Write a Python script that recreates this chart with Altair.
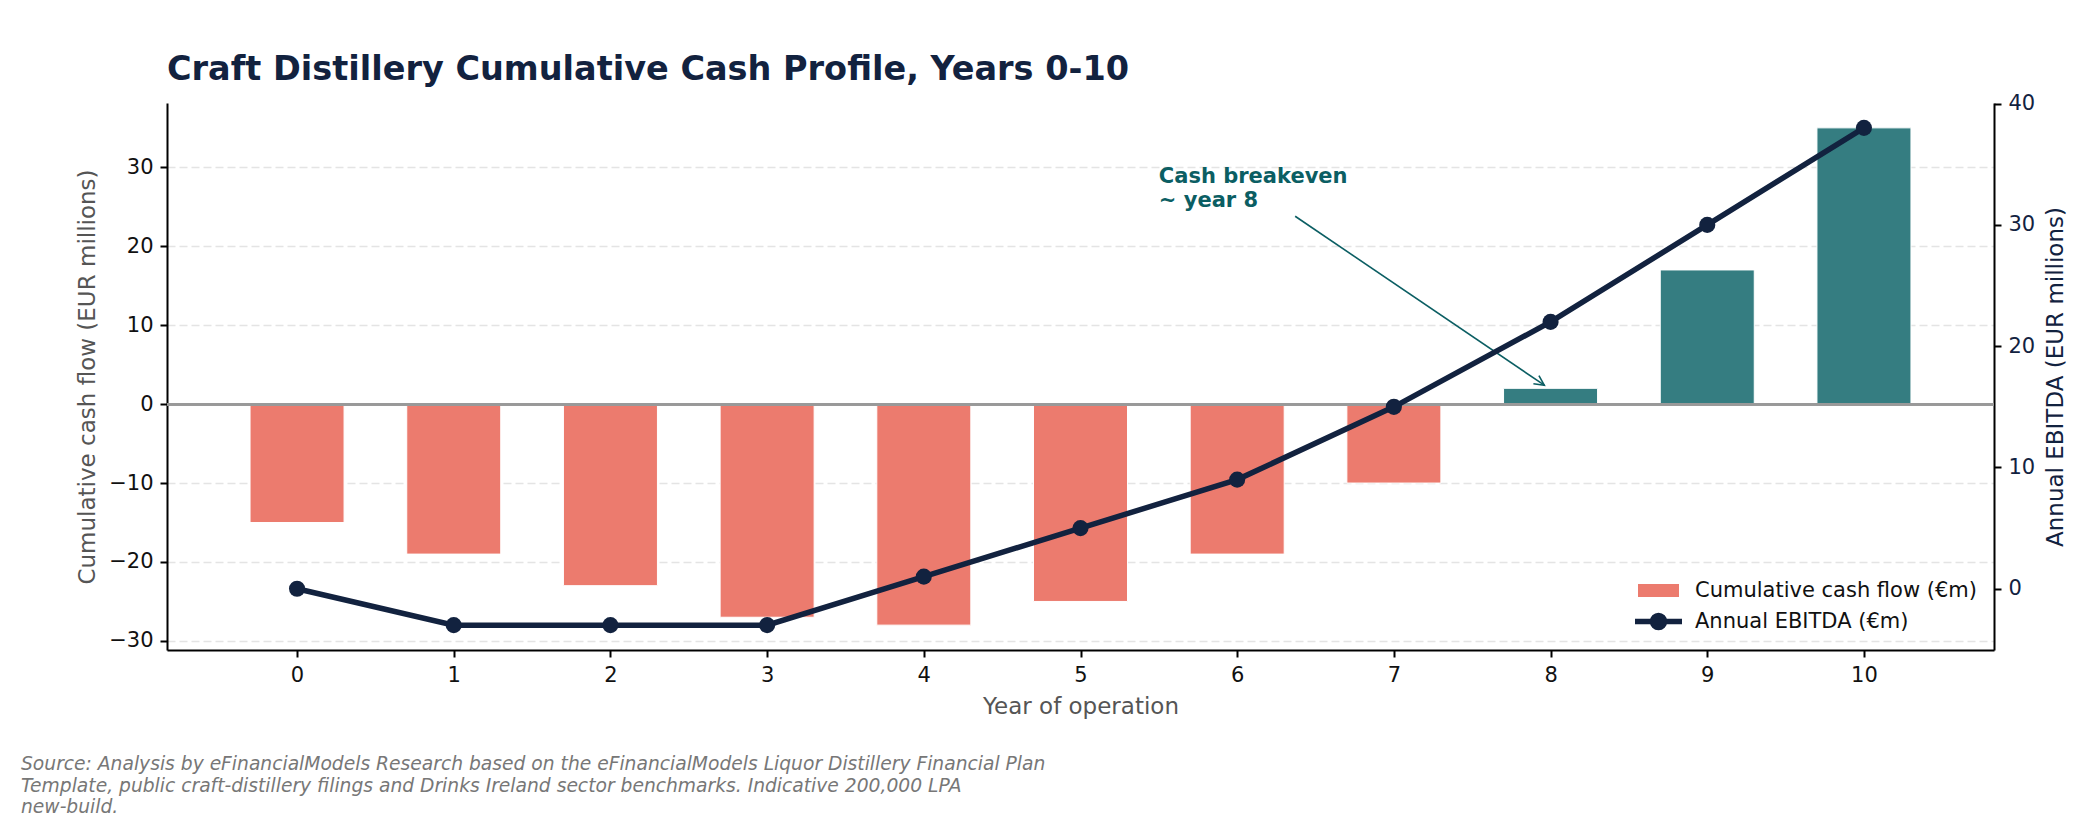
import math
import altair as alt
import pandas as pd

# ---------------- data ----------------
years = list(range(11))
cum_cash = [-15, -19, -23, -27, -28, -25, -19, -10, 2, 17, 35]
ebitda = [0, -3, -3, -3, 1, 5, 9, 15, 22, 30, 38]
x_ticks = list(range(11))
left_ticks = [-30, -20, -10, 0, 10, 20, 30]
right_ticks = [0, 10, 20, 30, 40]

CUM_LABEL = "Cumulative cash flow (€m)"
POS_LABEL = "Cumulative cash flow, positive (€m)"
EBITDA_LABEL = "Annual EBITDA (€m)"

title_text = "Craft Distillery Cumulative Cash Profile, Years 0-10"
x_title = "Year of operation"
left_title = "Cumulative cash flow (EUR millions)"
right_title = "Annual EBITDA (EUR millions)"
annot_lines = ["Cash breakeven", "~ year 8"]
annot_text_x = [5.5]
annot_text_y = [25]
arrow_x0 = [6.37]
arrow_y0 = [23.8]
arrow_x1 = [7.96]
arrow_y1 = [2.4]
source_lines = [
    "Source: Analysis by eFinancialModels Research based on the eFinancialModels Liquor Distillery Financial Plan",
    "Template, public craft-distillery filings and Drinks Ireland sector benchmarks. Indicative 200,000 LPA",
    "new-build.",
]

# ---------------- style ----------------
FONT = "DejaVu Sans"
SALMON = "#EC7B6E"
TEAL = "#357D81"
NAVY = "#12223F"
ANNOT = "#0B5E63"
GRAY_TITLE = "#555555"

W, H = 1827, 547
X_DOMAIN = [-0.83, 10.83]
L_DOMAIN = [-31.15, 38.15]
R_DOMAIN = [-5.05, 40.05]
BAR_HALF = 0.3

df = pd.DataFrame({"year": years, "cum": cum_cash, "ebitda": ebitda})
df["line_series"] = EBITDA_LABEL

x_scale = alt.Scale(domain=X_DOMAIN, nice=False, zero=False)
yl_scale = alt.Scale(domain=L_DOMAIN, nice=False, zero=False)
yr_scale = alt.Scale(domain=R_DOMAIN, nice=False, zero=False)

x_axis = alt.Axis(
    values=x_ticks, format="d", title=x_title, grid=False,
    labelFont=FONT, labelFontSize=21, labelColor="#111111", labelPadding=7,
    titleFont=FONT, titleFontSize=23, titleFontWeight="normal", titleColor=GRAY_TITLE,
    titlePadding=10, tickSize=7, tickWidth=2, tickColor="#000000",
    domainColor="#000000", domainWidth=2,
)
left_axis = alt.Axis(
    values=left_ticks, format="d", title=left_title, grid=True,
    gridDash=[8, 4], gridColor="#e4e4e4", gridWidth=1.4,
    labelFont=FONT, labelFontSize=21, labelColor="#111111", labelPadding=7,
    titleFont=FONT, titleFontSize=23, titleFontWeight="normal", titleColor=GRAY_TITLE,
    titlePadding=9, tickSize=7, tickWidth=2, tickColor="#000000",
    domainColor="#000000", domainWidth=2,
)
right_axis = alt.Axis(
    values=right_ticks, format="d", title=right_title, grid=False, orient="right",
    labelFont=FONT, labelFontSize=21, labelColor=NAVY, labelPadding=7,
    titleFont=FONT, titleFontSize=23, titleFontWeight="normal", titleColor=NAVY,
    titleAngle=270, titleBaseline="top",
    titlePadding=10, tickSize=7, tickWidth=2, tickColor="#000000",
    domainColor="#000000", domainWidth=2,
)

RECT_PATH = "M-4.1,-1.3L4.1,-1.3L4.1,1.3L-4.1,1.3Z"
LINE_PATH = "M-4.7,0L4.7,0M1.2,0A1.2,1.2 0 1 1 -1.2,0A1.2,1.2 0 1 1 1.2,0Z"

bar_legend = alt.Legend(
    title=None, values=[CUM_LABEL], orient="none", legendX=1481, legendY=477,
    symbolType=RECT_PATH, symbolSize=100, symbolStrokeWidth=0,
    labelFont=FONT, labelFontSize=21, labelColor="#111111", labelOffset=26,
    padding=0, labelLimit=600,
)
line_legend = alt.Legend(
    title=None, orient="none", legendX=1481, legendY=508,
    symbolType=LINE_PATH, symbolSize=100, symbolStrokeWidth=5.5,
    symbolFillColor=NAVY,
    labelFont=FONT, labelFontSize=21, labelColor="#111111", labelOffset=26,
    padding=0, labelLimit=600,
)

bars = (
    alt.Chart(df)
    .transform_calculate(
        x0=f"datum.year - {BAR_HALF}",
        x1=f"datum.year + {BAR_HALF}",
        series=f"datum.cum < 0 ? '{CUM_LABEL}' : '{POS_LABEL}'",
    )
    .mark_bar(stroke="white", strokeWidth=1)
    .encode(
        x=alt.X("x0:Q", scale=x_scale, axis=x_axis),
        x2="x1:Q",
        y=alt.Y("cum:Q", scale=yl_scale, axis=left_axis),
        y2=alt.datum(0),
        fill=alt.Fill(
            "series:N",
            scale=alt.Scale(domain=[CUM_LABEL, POS_LABEL], range=[SALMON, TEAL]),
            legend=bar_legend,
        ),
    )
)

zero_line = alt.Chart(df).mark_rule(color="#999999", strokeWidth=2.5).encode(
    y=alt.YDatum(0, scale=yl_scale, axis=left_axis)
)

arrow_df = pd.DataFrame({"x0": arrow_x0, "y0": arrow_y0, "x1": arrow_x1, "y1": arrow_y1})
dx_px = (arrow_x1[0] - arrow_x0[0]) / (X_DOMAIN[1] - X_DOMAIN[0]) * W
dy_px = -(arrow_y1[0] - arrow_y0[0]) / (L_DOMAIN[1] - L_DOMAIN[0]) * H
head_angle = math.degrees(math.atan2(dx_px, -dy_px)) % 360

arrow_line = alt.Chart(arrow_df).mark_rule(color=ANNOT, strokeWidth=1.6).encode(
    x=alt.X("x0:Q", scale=x_scale, axis=x_axis),
    y=alt.Y("y0:Q", scale=yl_scale, axis=left_axis),
    x2="x1:Q",
    y2="y1:Q",
)
arrow_head = alt.Chart(arrow_df).mark_point(
    shape="M-0.5,1L0,0L0.5,1", size=387, filled=False, strokeWidth=1.6,
    color=ANNOT, opacity=1, angle=head_angle,
).encode(
    x=alt.X("x1:Q", scale=x_scale, axis=x_axis),
    y=alt.Y("y1:Q", scale=yl_scale, axis=left_axis),
)

annot_df = pd.DataFrame({"x": annot_text_x, "y": annot_text_y})
annot_text = alt.Chart(annot_df).mark_text(
    text=annot_lines, align="left", baseline="alphabetic", dy=-24, lineHeight=24,
    font=FONT, fontSize=21, fontWeight="bold", color=ANNOT,
).encode(
    x=alt.X("x:Q", scale=x_scale, axis=x_axis),
    y=alt.Y("y:Q", scale=yl_scale, axis=left_axis),
)

source = alt.Chart(annot_df).mark_text(
    text=source_lines, align="left", baseline="alphabetic", lineHeight=21.5,
    font=FONT, fontSize=18.7, fontStyle="italic", color="#777777",
).encode(x=alt.value(-146), y=alt.value(667))

left_group = alt.layer(bars, zero_line, arrow_line, arrow_head, annot_text, source)

ebitda_line = alt.Chart(df).mark_line(strokeWidth=5.5).encode(
    x=alt.X("year:Q", scale=x_scale, axis=x_axis),
    y=alt.Y("ebitda:Q", scale=yr_scale, axis=right_axis),
    stroke=alt.Stroke(
        "line_series:N",
        scale=alt.Scale(domain=[EBITDA_LABEL], range=[NAVY]),
        legend=line_legend,
    ),
)
ebitda_pts = alt.Chart(df).mark_circle(size=260, color=NAVY, opacity=1).encode(
    x=alt.X("year:Q", scale=x_scale, axis=x_axis),
    y=alt.Y("ebitda:Q", scale=yr_scale, axis=right_axis),
)
right_group = alt.layer(ebitda_line, ebitda_pts)

chart = (
    alt.layer(left_group, right_group)
    .resolve_scale(y="independent")
    .properties(
        width=W,
        height=H,
        background="white",
        title=alt.TitleParams(
            title_text, anchor="start", frame="group", font=FONT, fontSize=33.5,
            fontWeight="bold", color=NAVY, offset=14, baseline="alphabetic", dy=35,
        ),
        autosize=alt.AutoSizeParams(type="none"),
        padding={"left": 159, "top": 95, "right": 98, "bottom": 167},
    )
    .configure_view(stroke="transparent", strokeWidth=0)
    .configure_axisRight(grid=False)
    .configure_axisX(grid=False)
)

chart.save("out.html", embed_options={"renderer": "svg", "actions": False})
